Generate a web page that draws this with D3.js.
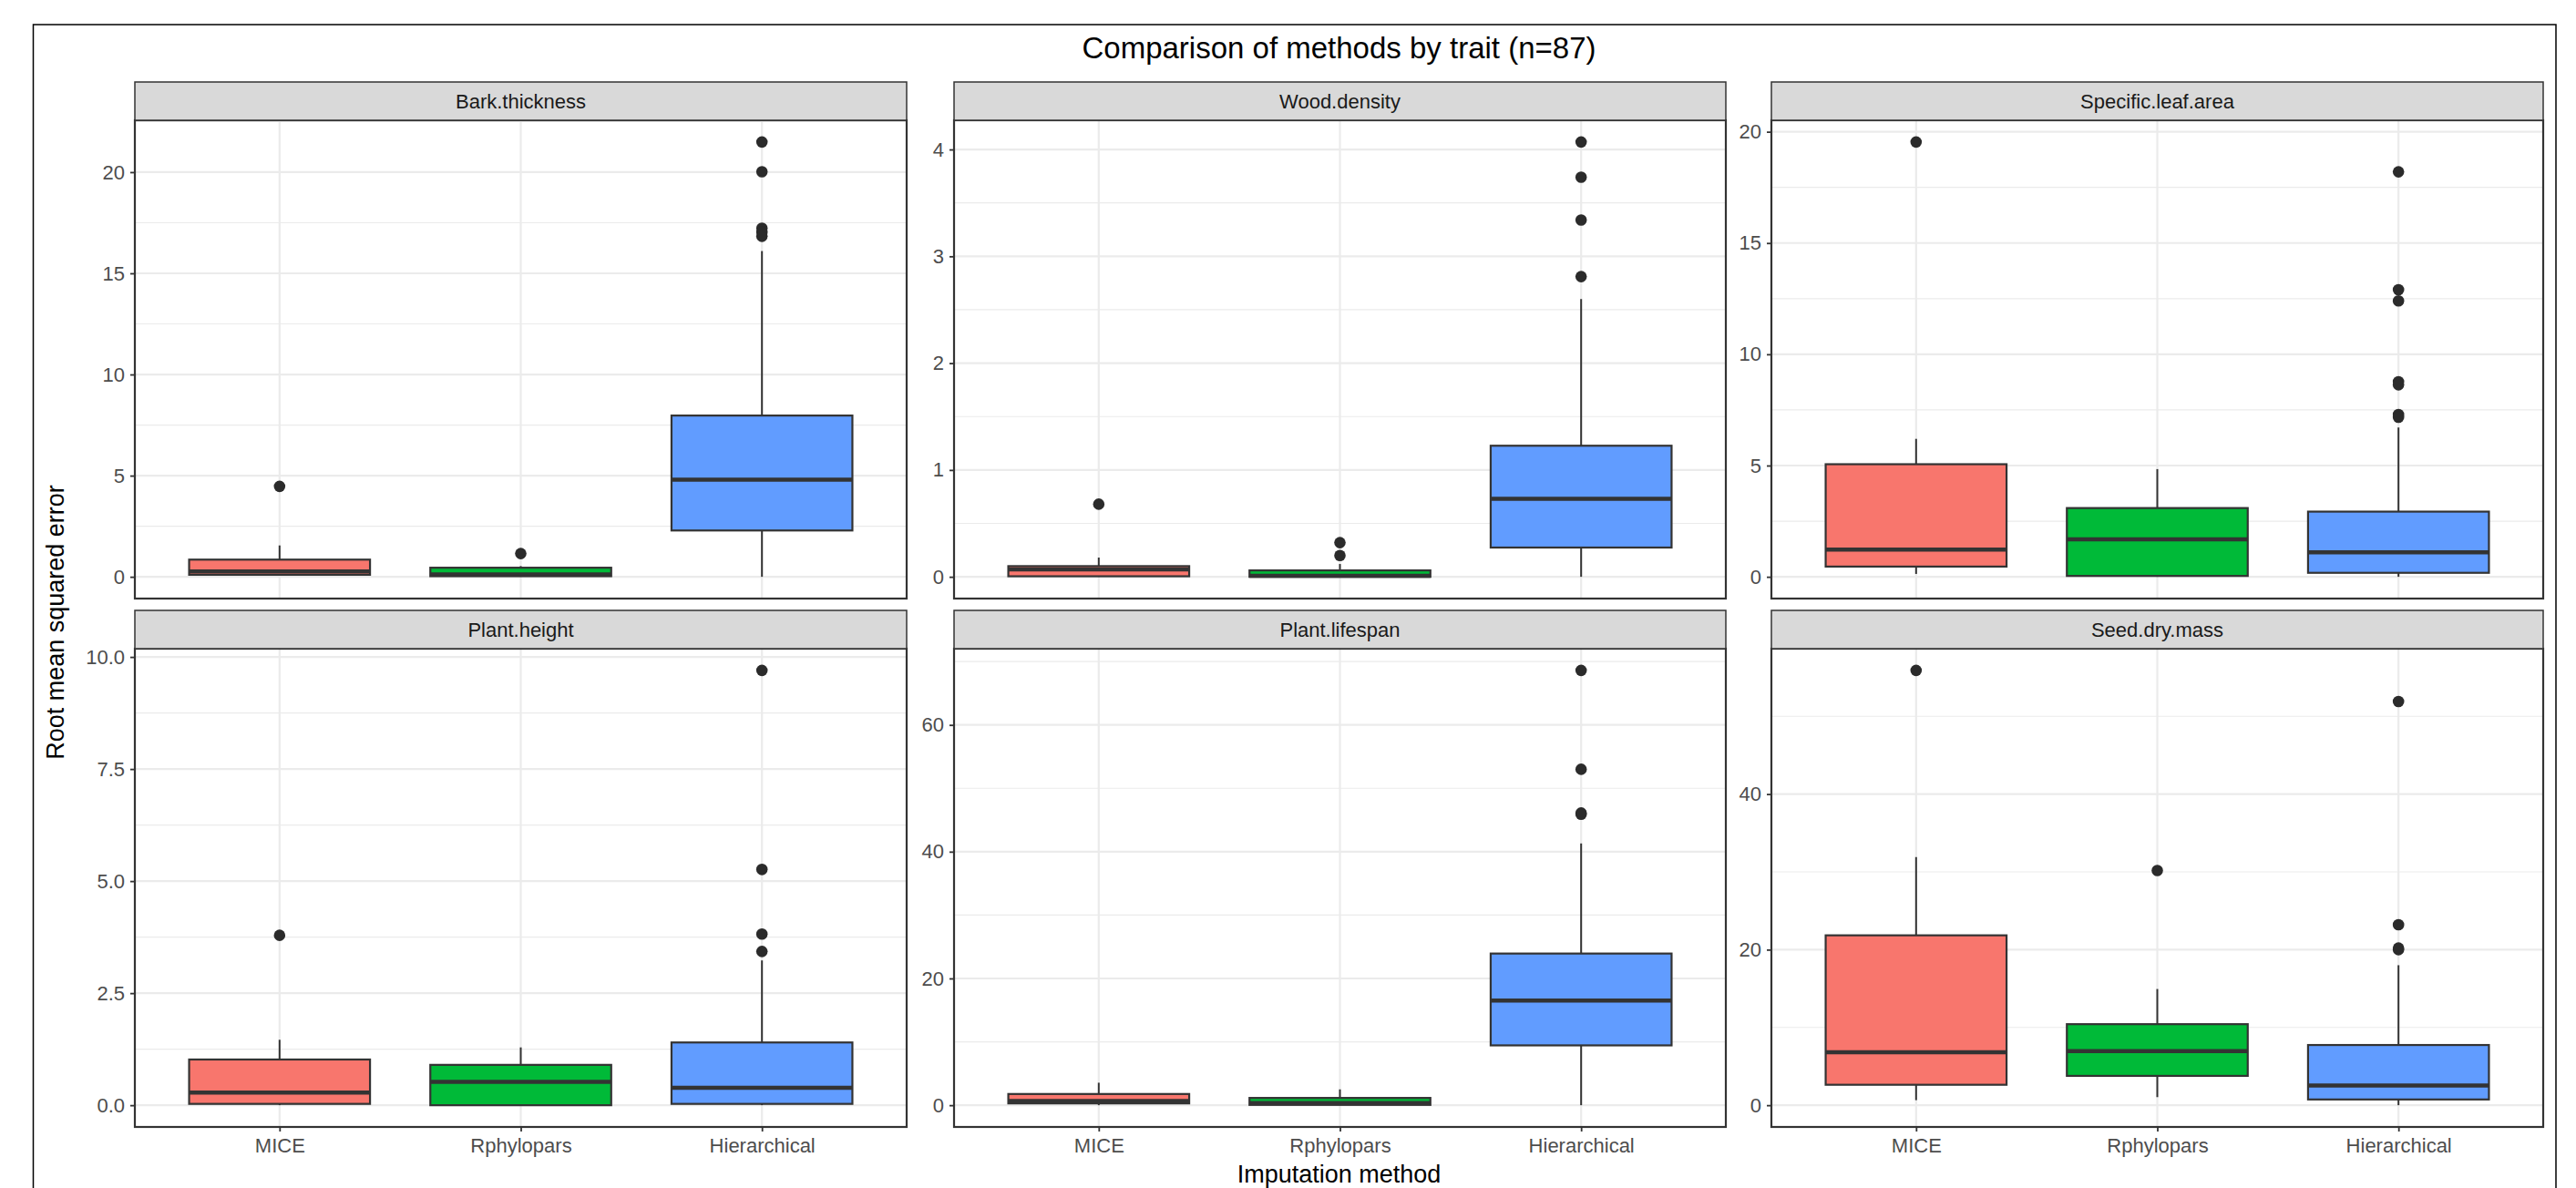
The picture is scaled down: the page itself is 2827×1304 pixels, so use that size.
<!DOCTYPE html>
<html>
<head>
<meta charset="utf-8">
<script src="https://cdn.jsdelivr.net/npm/d3@7"></script>
<style>
  body { margin: 0; background: #fff; }
  svg { display: block; font-family: "Liberation Sans", Arial, sans-serif; }
</style>
</head>
<body>
<div id="chart"></div>
<script>
// categories
const methods = ['MICE', 'Rphylopars', 'Hierarchical'];
const methodColors = ['#F8766D', '#00BA38', '#619CFF'];

// [lower whisker, Q1, median, Q3, upper whisker] per method (MICE, Rphylopars, Hierarchical)
const barkThickness = [[0.05, 0.1, 0.27, 0.85, 1.55], [0, 0.03, 0.12, 0.45, 0.53], [0, 2.29, 4.8, 7.97, 16.1]];
const barkThicknessOutliers = [[4.47], [1.15], [21.49, 20.02, 17.23, 17.03, 16.83]];
const barkThicknessTicks = [0, 5, 10, 15, 20];

const woodDensity = [[0, 0.005, 0.07, 0.10, 0.18], [0, 0, 0.01, 0.06, 0.12], [0, 0.274, 0.73, 1.227, 2.6]];
const woodDensityOutliers = [[0.68], [0.32, 0.20], [4.07, 3.74, 3.34, 2.81]];
const woodDensityTicks = [0, 1, 2, 3, 4];

const specificLeafArea = [[0.13, 0.46, 1.22, 5.06, 6.2], [0, 0.04, 1.68, 3.09, 4.84], [0, 0.18, 1.1, 2.93, 6.71]];
const specificLeafAreaOutliers = [[19.54], [], [18.2, 12.9, 12.4, 8.77, 8.63, 7.29, 7.17]];
const specificLeafAreaTicks = [0, 5, 10, 15, 20];

const plantHeight = [[0, 0.03, 0.28, 1.02, 1.46], [0, 0, 0.52, 0.90, 1.29], [0, 0.03, 0.39, 1.40, 3.23]];
const plantHeightOutliers = [[3.79], [], [9.70, 5.26, 3.82, 3.43]];
const plantHeightTicks = [0, 2.5, 5, 7.5, 10];

const plantLifespan = [[0, 0.29, 0.67, 1.77, 3.55], [0, 0.05, 0.35, 1.15, 2.5], [0, 9.44, 16.5, 23.93, 41.3]];
const plantLifespanOutliers = [[], [], [68.6, 53.0, 46.1, 45.9]];
const plantLifespanTicks = [0, 20, 40, 60];

const seedDryMass = [[0.65, 2.63, 6.8, 21.84, 31.9], [1.04, 3.77, 6.95, 10.42, 14.94], [0, 0.74, 2.53, 7.74, 18.0]];
const seedDryMassOutliers = [[55.9], [30.17], [51.9, 23.2, 20.2, 20.0]];
const seedDryMassTicks = [0, 20, 40];

const panels = [
    { trait: 'Bark.thickness', stats: barkThickness, outliers: barkThicknessOutliers, ticks: barkThicknessTicks, fmt: d3.format('d') },
    { trait: 'Wood.density', stats: woodDensity, outliers: woodDensityOutliers, ticks: woodDensityTicks, fmt: d3.format('d') },
    { trait: 'Specific.leaf.area', stats: specificLeafArea, outliers: specificLeafAreaOutliers, ticks: specificLeafAreaTicks, fmt: d3.format('d') },
    { trait: 'Plant.height', stats: plantHeight, outliers: plantHeightOutliers, ticks: plantHeightTicks, fmt: d3.format('.1f') },
    { trait: 'Plant.lifespan', stats: plantLifespan, outliers: plantLifespanOutliers, ticks: plantLifespanTicks, fmt: d3.format('d') },
    { trait: 'Seed.dry.mass', stats: seedDryMass, outliers: seedDryMassOutliers, ticks: seedDryMassTicks, fmt: d3.format('d') }
];

// layout
const width = 2827, height = 1304;
const colLeft = [148, 1047, 1944];
const panelW = 847;
const rowTop = [90, 670];
const stripH = 42;
const plotH = 525;

const svg = d3.select('#chart')
    .append('svg')
    .attr('width', width)
    .attr('height', height);

svg.append('rect')
    .attr('width', width)
    .attr('height', height)
    .attr('fill', '#fff');

// outer frame
svg.append('rect')
    .attr('x', 36.5)
    .attr('y', 27)
    .attr('width', 2805 - 36.5)
    .attr('height', height + 20)
    .attr('fill', 'none')
    .attr('stroke', '#000')
    .attr('stroke-width', 1.5);

// title
svg.append('text')
    .attr('x', (colLeft[0] + colLeft[2] + panelW) / 2)
    .attr('y', 64)
    .attr('text-anchor', 'middle')
    .style('font-size', '33px')
    .attr('fill', '#000')
    .text('Comparison of methods by trait (n=87)');

// axis titles
svg.append('text')
    .attr('x', (colLeft[0] + colLeft[2] + panelW) / 2)
    .attr('y', 1298)
    .attr('text-anchor', 'middle')
    .style('font-size', '27px')
    .attr('fill', '#000')
    .text('Imputation method');

svg.append('text')
    .attr('transform', 'translate(70, 683) rotate(-90)')
    .attr('text-anchor', 'middle')
    .style('font-size', '27px')
    .attr('fill', '#000')
    .text('Root mean squared error');

panels.forEach((p, i) => {
    const col = i % 3;
    const row = Math.floor(i / 3);
    const left = colLeft[col];
    const top = rowTop[row] + stripH;
    const bottom = top + plotH;

    const g = svg.append('g');

    // scales
    const values = p.stats.flat().concat(p.outliers.flat());
    const lo = d3.min(values), hi = d3.max(values);
    const pad = (hi - lo) * 0.05;

    const x = d3.scalePoint()
        .domain(methods)
        .range([left, left + panelW])
        .padding(0.6);

    const y = d3.scaleLinear()
        .domain([lo - pad, hi + pad])
        .range([bottom, top]);

    const step = p.ticks[1] - p.ticks[0];
    const minor = d3.range(p.ticks[0] - step / 2, hi + pad, step)
        .filter(v => v >= lo - pad && v <= hi + pad);

    // background + grid
    g.append('rect')
        .attr('x', left).attr('y', top)
        .attr('width', panelW).attr('height', plotH)
        .attr('fill', '#fff');

    g.append('g')
        .selectAll('line')
        .data(minor)
        .join('line')
        .attr('x1', left).attr('x2', left + panelW)
        .attr('y1', d => y(d)).attr('y2', d => y(d))
        .attr('stroke', '#EBEBEB')
        .attr('stroke-width', 1.2);

    g.append('g')
        .selectAll('line')
        .data(p.ticks)
        .join('line')
        .attr('x1', left).attr('x2', left + panelW)
        .attr('y1', d => y(d)).attr('y2', d => y(d))
        .attr('stroke', '#EBEBEB')
        .attr('stroke-width', 2.2);

    g.append('g')
        .selectAll('line')
        .data(methods)
        .join('line')
        .attr('x1', d => x(d)).attr('x2', d => x(d))
        .attr('y1', top).attr('y2', bottom)
        .attr('stroke', '#EBEBEB')
        .attr('stroke-width', 2.2);

    // boxes
    const boxW = x.step() * 0.75;
    const boxes = g.append('g')
        .selectAll('g')
        .data(p.stats.map((s, j) => ({ m: methods[j], s: s, color: methodColors[j], out: p.outliers[j] })))
        .join('g');

    boxes.append('line')
        .attr('x1', d => x(d.m)).attr('x2', d => x(d.m))
        .attr('y1', d => y(d.s[3])).attr('y2', d => y(d.s[4]))
        .attr('stroke', '#333')
        .attr('stroke-width', 2);

    boxes.append('line')
        .attr('x1', d => x(d.m)).attr('x2', d => x(d.m))
        .attr('y1', d => y(d.s[1])).attr('y2', d => y(d.s[0]))
        .attr('stroke', '#333')
        .attr('stroke-width', 2);

    boxes.append('rect')
        .attr('x', d => x(d.m) - boxW / 2)
        .attr('width', boxW)
        .attr('y', d => y(d.s[3]))
        .attr('height', d => Math.max(0, y(d.s[1]) - y(d.s[3])))
        .attr('fill', d => d.color)
        .attr('stroke', '#333')
        .attr('stroke-width', 2.2);

    boxes.append('line')
        .attr('x1', d => x(d.m) - boxW / 2).attr('x2', d => x(d.m) + boxW / 2)
        .attr('y1', d => y(d.s[2])).attr('y2', d => y(d.s[2]))
        .attr('stroke', '#333')
        .attr('stroke-width', 4.5);

    boxes.selectAll('circle')
        .data(d => d.out.map(v => ({ m: d.m, v: v })))
        .join('circle')
        .attr('cx', d => x(d.m))
        .attr('cy', d => y(d.v))
        .attr('r', 6.3)
        .attr('fill', '#2b2b2b');

    // panel border
    g.append('rect')
        .attr('x', left).attr('y', top)
        .attr('width', panelW).attr('height', plotH)
        .attr('fill', 'none')
        .attr('stroke', '#333')
        .attr('stroke-width', 2.2);

    // strip
    g.append('rect')
        .attr('x', left).attr('y', rowTop[row])
        .attr('width', panelW).attr('height', stripH)
        .attr('fill', '#D9D9D9')
        .attr('stroke', '#333')
        .attr('stroke-width', 1.5);

    g.append('text')
        .attr('x', left + panelW / 2)
        .attr('y', rowTop[row] + stripH / 2)
        .attr('text-anchor', 'middle')
        .attr('dominant-baseline', 'central')
        .style('font-size', '22px')
        .attr('fill', '#1A1A1A')
        .text(p.trait);

    // y axis
    const yAxis = g.append('g')
        .attr('transform', `translate(${left}, 0)`)
        .call(d3.axisLeft(y).tickValues(p.ticks).tickFormat(p.fmt).tickSize(5).tickPadding(6));

    yAxis.select('.domain').remove();
    yAxis.selectAll('.tick line').attr('stroke', '#333').attr('stroke-width', 1.8);
    yAxis.selectAll('text')
        .style('font-size', '22px')
        .style('font-family', '"Liberation Sans", Arial, sans-serif')
        .attr('fill', '#4D4D4D');

    // x axis (bottom row only)
    if (row === 1) {
        const xAxis = g.append('g')
            .attr('transform', `translate(0, ${bottom})`)
            .call(d3.axisBottom(x).tickSize(5).tickPadding(7));

        xAxis.select('.domain').remove();
        xAxis.selectAll('.tick line').attr('stroke', '#333').attr('stroke-width', 1.8);
        xAxis.selectAll('text')
            .style('font-size', '22px')
            .style('font-family', '"Liberation Sans", Arial, sans-serif')
            .attr('fill', '#4D4D4D');
    }
});
</script>
</body>
</html>
